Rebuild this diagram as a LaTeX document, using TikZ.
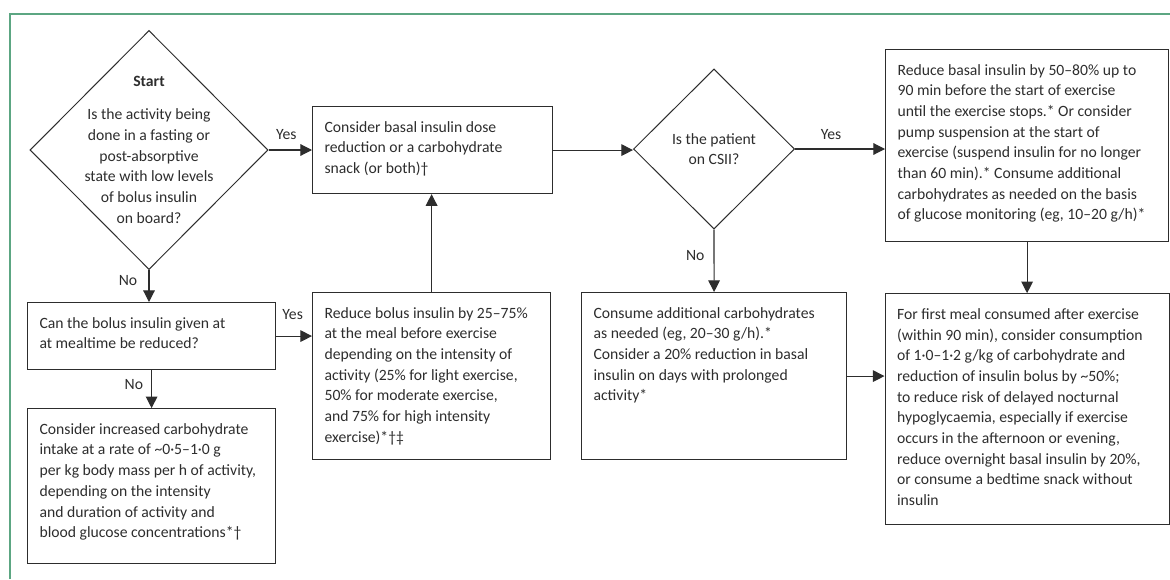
\documentclass[tikz,border=0pt]{standalone}
\usepackage{fontspec}
\setmainfont{Carlito}
\usetikzlibrary{
	arrows.meta,
	positioning,
	shapes.geometric
}
\definecolor{framegreen}{RGB}{92,166,130}
\definecolor{inkgray}{RGB}{45,45,45}

\begin{document}
\begin{tikzpicture}[
			x=0.025cm, y=-0.025cm,
			font=\fontsize{11.15}{14.7}\selectfont,
			every node/.style={text=inkgray},
			BoxStyle/.style={draw=inkgray, line width=0.8pt, align=flush left, inner xsep=0.3cm, inner ysep=0pt, text height=0.64cm, anchor=north west},
			DecisionStyle/.style={draw=inkgray, line width=0.7pt, diamond, aspect=1, inner sep=0pt, align=center},
			LabelStyle/.style={inner sep=1pt}]
		\useasboundingbox (0,0) rectangle (1170,579);
		\draw[framegreen, line width=0.8pt] (10,579) -- (10,14) -- (1170,14);
		\node [DecisionStyle, minimum width=5.95cm, minimum height=5.975cm] (start) at (149,150) {};
		\node [align=center, inner sep=0pt] (startq) at (start) {\textbf{Start}\\[0.31cm]Is the activity being\\done in a fasting or\\post-absorptive\\state with low levels\\of bolus insulin\\on board?};
		\node [BoxStyle, text width=5.4cm, text depth=1.535cm] (basal) at (312,106) {Consider basal insulin dose\\reduction or a carbohydrate\\snack (or both)†};
		\node [DecisionStyle, minimum width=4.025cm, minimum height=4cm] (csii) at (714,149) {Is the patient\\on CSII?};
		\node [BoxStyle, text width=6.475cm, text depth=4.16cm] (pump) at (885,49) {Reduce basal insulin by 50–80\% up to\\90 min before the start of exercise\\until the exercise stops.* Or consider\\pump suspension at the start of\\exercise (suspend insulin for no longer\\than 60 min).* Consume additional\\carbohydrates as needed on the basis\\of glucose monitoring (eg, 10–20 g/h)*};
		\node [BoxStyle, text width=5.6cm, text depth=1.035cm] (can) at (27,302) {Can the bolus insulin given at\\at mealtime be reduced?};
		\node [BoxStyle, text width=5.6cm, text depth=3.235cm, below=0.95cm of can] (inc) {Consider increased carbohydrate\\intake at a rate of \textasciitilde0·5–1·0 g\\\mbox{per kg body mass per h of activity,}\\depending on the intensity\\and duration of activity and\\blood glucose concentrations*†};
		\node [BoxStyle, text width=5.35cm, text depth=3.535cm] (bolus) at (312,292) {Reduce bolus insulin by 25–75\%\\at the meal before exercise\\depending on the intensity of\\activity (25\% for light exercise,\\50\% for moderate exercise,\\and 75\% for high intensity\\exercise)*†‡};
		\node [BoxStyle, text width=6.025cm, text depth=3.535cm] (carb) at (581,292) {Consume additional carbohydrates\\as needed (eg, 20–30 g/h).*\\Consider a 20\% reduction in basal\\insulin on days with prolonged\\activity*};
		\node [BoxStyle, text width=6.5cm, text depth=5.135cm, below=1.275cm of pump] (meal) {For first meal consumed after exercise\\(within 90 min), consider consumption\\of 1·0–1·2 g/kg of carbohydrate and\\reduction of insulin bolus by \textasciitilde50\%;\\to reduce risk of delayed nocturnal\\hypoglycaemia, especially if exercise\\occurs in the afternoon or evening,\\reduce overnight basal insulin by 20\%,\\or consume a bedtime snack without\\insulin};
		\begin{scope}[-{Triangle[length=0.29cm, width=0.29cm]}, draw=inkgray, line width=0.8pt]
			\draw (start.east) -- node[LabelStyle, above=6pt, pos=0.41] (yes1) {Yes} (start.east -| basal.west);
			\draw (start.south) -- node[LabelStyle, left=7pt, pos=0.33] (no1) {No} (start.south |- can.north);
			\draw (can.east) -- node[LabelStyle, above=10.4pt, pos=0.46] (yes2) {Yes} (can.east -| bolus.west);
			\draw (can.south) -- node[LabelStyle, left=4.7pt, pos=0.39] (no2) {No} (inc.north);
			\draw (bolus.north) -- (bolus.north |- basal.south);
			\draw (basal.east) -- (basal.east -| csii.west);
			\draw (csii.east) -- node[LabelStyle, above=5.4pt, pos=0.4] (yes3) {Yes} (csii.east -| pump.west);
			\draw (csii.south) -- node[LabelStyle, left=5.4pt, pos=0.42] (no3) {No} (carb.north);
			\draw (pump.south) -- (meal.north);
			\draw (carb.east) -- (carb.east -| meal.west);
		\end{scope}
\end{tikzpicture}
\end{document}
